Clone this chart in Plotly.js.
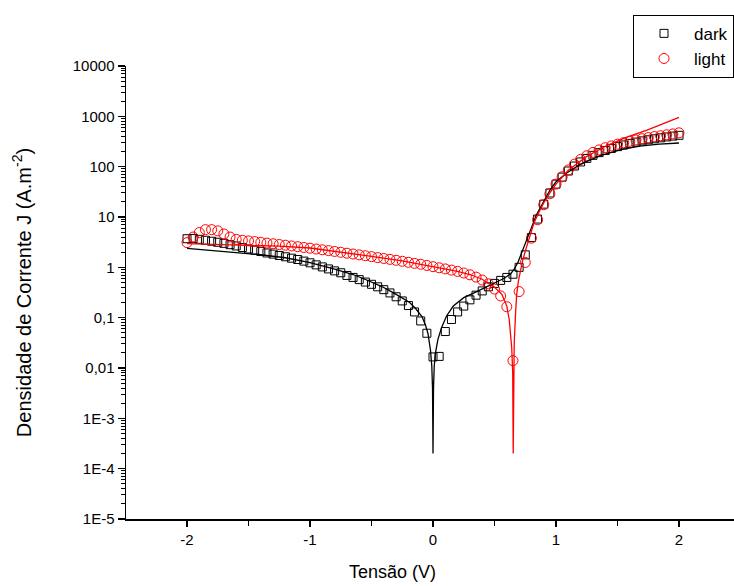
<!DOCTYPE html>
<html>
<head>
<meta charset="utf-8">
<script src="https://cdn.plot.ly/plotly-3.0.1.min.js"></script>
<style>html,body{margin:0;padding:0;background:#fff;}#chart{width:734px;height:586px;}</style>
</head>
<body>
<div id="chart"></div>
<script>
// Voltage grid of the measured points (V)
const voltage = [-2.00,-1.95,-1.90,-1.85,-1.80,-1.75,-1.70,-1.65,-1.60,-1.55,-1.50,-1.45,-1.40,-1.35,-1.30,-1.25,-1.20,-1.15,-1.10,-1.05,
  -1.00,-0.95,-0.90,-0.85,-0.80,-0.75,-0.70,-0.65,-0.60,-0.55,-0.50,-0.45,-0.40,-0.35,-0.30,-0.25,-0.20,-0.15,-0.10,-0.05,
  0.00,0.05,0.10,0.15,0.20,0.25,0.30,0.35,0.40,0.45,0.50,0.55,0.60,0.65,0.70,0.75,0.80,0.85,0.90,0.95,
  1.00,1.05,1.10,1.15,1.20,1.25,1.30,1.35,1.40,1.45,1.50,1.55,1.60,1.65,1.70,1.75,1.80,1.85,1.90,1.95,2.00];

// |J| dark (A.m^-2)
const darkJ = [3.7,3.75,3.6,3.45,3.3,3.15,3.0,2.82,2.66,2.48,2.32,2.2,2.06,1.93,1.83,1.72,1.62,1.52,1.43,1.33,
  1.23,1.12,1.02,0.93,0.85,0.78,0.69,0.63,0.57,0.51,0.46,0.41,0.36,0.31,0.26,0.215,0.174,0.13,0.086,0.049,
  0.0166,0.017,0.053,0.092,0.13,0.17,0.226,0.28,0.34,0.41,0.48,0.55,0.63,0.73,1.0,1.77,3.9,9.1,18,30,
  45,62,82,103,124,146,168,190,210,230,250,270,290,308,325,342,358,374,390,405,420];

// |J| light (A.m^-2)
const lightJ = [3.1,4.0,4.9,5.6,5.6,5.3,4.6,4.0,3.6,3.45,3.35,3.25,3.14,3.03,2.94,2.84,2.75,2.66,2.57,2.48,
  2.40,2.31,2.23,2.15,2.07,1.99,1.91,1.84,1.77,1.70,1.63,1.56,1.50,1.44,1.38,1.32,1.26,1.20,1.15,1.09,
  1.03,0.98,0.93,0.88,0.83,0.77,0.71,0.64,0.56,0.47,0.37,0.27,0.165,0.014,0.33,1.25,3.8,8.8,17.5,29,
  45,63,86,112,140,165,192,215,238,258,280,300,320,340,360,378,396,412,430,448,470];

// Fit curve, dark
const darkFitV = [-2.0,-1.8,-1.6,-1.4,-1.2,-1.0,-0.8,-0.65,-0.54,-0.42,-0.32,-0.25,-0.19,-0.14,-0.09,-0.06,-0.04,-0.02,-0.01,-0.004,
  0,0.004,0.01,0.02,0.04,0.07,0.11,0.165,0.25,0.355,0.46,0.575,0.63,0.66,0.69,0.71,0.735,0.76,0.79,0.84,
  0.9,0.95,1.0,1.09,1.2,1.36,1.52,1.68,1.84,2.0];
const darkFitJ = [2.37,2.17,1.97,1.78,1.55,1.24,0.92,0.72,0.56,0.42,0.31,0.25,0.2,0.15,0.105,0.07,0.047,0.022,0.011,0.004,
  0.0002,0.004,0.011,0.02,0.037,0.064,0.108,0.17,0.25,0.33,0.44,0.6,0.74,0.92,1.25,1.7,2.5,3.5,5.3,11,
  21,34,50,76,112,165,215,255,280,295];

// Fit curve, light
const lightFitV = [-2.0,-1.75,-1.5,-1.25,-1.0,-0.75,-0.5,-0.25,0.0,0.2,0.3,0.4,0.5,0.56,0.6,0.62,0.64,0.648,0.652,0.656,
  0.66,0.67,0.68,0.695,0.71,0.73,0.75,0.79,0.82,0.85,0.9,0.95,1.0,1.1,1.25,1.41,1.57,1.74,1.9,2.0];
const lightFitJ = [2.95,2.86,2.76,2.63,2.42,2.02,1.65,1.34,1.03,0.83,0.72,0.58,0.4,0.29,0.17,0.09,0.025,0.008,0.0002,0.01,
  0.03,0.11,0.29,0.55,0.85,1.4,2.1,4.2,7.5,11,19,30,45,85,160,260,380,530,760,950];

// Axis ticks
const yTickVals = [1e-5,1e-4,1e-3,0.01,0.1,1,10,100,1000,10000];
const yTickText = ['1E-5','1E-4','1E-3','0,01','0,1','1','10','100','1000','10000'];
const xTickVals = [-2,-1,0,1,2];
const xTickText = ['-2','-1','0','1','2'];

const yMinor = [];
for (let e = -5; e < 4; e++) { for (let d = 2; d <= 9; d++) yMinor.push(d * Math.pow(10, e)); }

const font = {family: 'Liberation Sans, Arial, sans-serif', color: '#000'};

const traces = [
  {x: voltage, y: darkJ, type: 'scatter', mode: 'markers', name: 'dark',
   marker: {symbol: 'square-open', size: 8, color: '#000', line: {width: 1, color: '#000'}}},
  {x: voltage, y: lightJ, type: 'scatter', mode: 'markers', name: 'light',
   marker: {symbol: 'circle-open', size: 10, color: '#ff0000', line: {width: 1, color: '#ff0000'}}},
  {x: darkFitV, y: darkFitJ, type: 'scatter', mode: 'lines', showlegend: false,
   line: {color: '#000', width: 1.3}},
  {x: lightFitV, y: lightFitJ, type: 'scatter', mode: 'lines', showlegend: false,
   line: {color: '#ff0000', width: 1.3}},
  {x: [], y: [], yaxis: 'y2', type: 'scatter', mode: 'markers', showlegend: false, hoverinfo: 'skip'}
];

const layout = {
  width: 734, height: 586,
  margin: {l: 126, r: 0, t: 66, b: 67},
  paper_bgcolor: '#fff', plot_bgcolor: '#fff',
  font: Object.assign({size: 15}, font),
  showlegend: true,
  legend: {x: 1, xanchor: 'right', y: 1.113, yanchor: 'top',
    bordercolor: '#000', borderwidth: 1, bgcolor: '#fff',
    font: Object.assign({size: 17}, font), itemwidth: 50, tracegroupgap: 0},
  xaxis: {
    range: [-2.496, 2.447], tickmode: 'array', tickvals: xTickVals, ticktext: xTickText,
    ticks: 'outside', ticklen: 6, tickwidth: 1.5, tickcolor: '#000',
    minor: {dtick: 0.5, tick0: 0, ticks: 'outside', ticklen: 5, tickwidth: 1.5, tickcolor: '#000', showgrid: false},
    showline: true, linecolor: '#000', linewidth: 1.5, showgrid: false, zeroline: false,
    tickfont: Object.assign({size: 15}, font)
  },
  yaxis: {
    type: 'log', range: [-5, 4], tickmode: 'array', tickvals: yTickVals, ticktext: yTickText,
    ticks: 'outside', ticklen: 7, tickwidth: 1.5, tickcolor: '#000',
    showline: true, linecolor: '#000', linewidth: 1.5, showgrid: false, zeroline: false,
    tickfont: Object.assign({size: 15}, font),
    title: {text: 'Densidade de Corrente J (A.m<sup>-2</sup>)', font: Object.assign({size: 20}, font), standoff: 36}
  },
  yaxis2: {
    type: 'log', range: [-5, 4], overlaying: 'y', anchor: 'x', side: 'left',
    tickmode: 'array', tickvals: yMinor, ticks: 'outside', ticklen: 4, tickwidth: 1, tickcolor: '#000',
    showticklabels: false, showgrid: false, zeroline: false, showline: false
  },
  annotations: [
    {text: 'Tensão (V)', xref: 'paper', yref: 'paper', x: 0.439, y: -0.117,
     xanchor: 'center', yanchor: 'middle', showarrow: false, font: Object.assign({size: 18}, font)}
  ]
};

Plotly.newPlot('chart', traces, layout, {displayModeBar: false, staticPlot: true});
</script>
</body>
</html>
